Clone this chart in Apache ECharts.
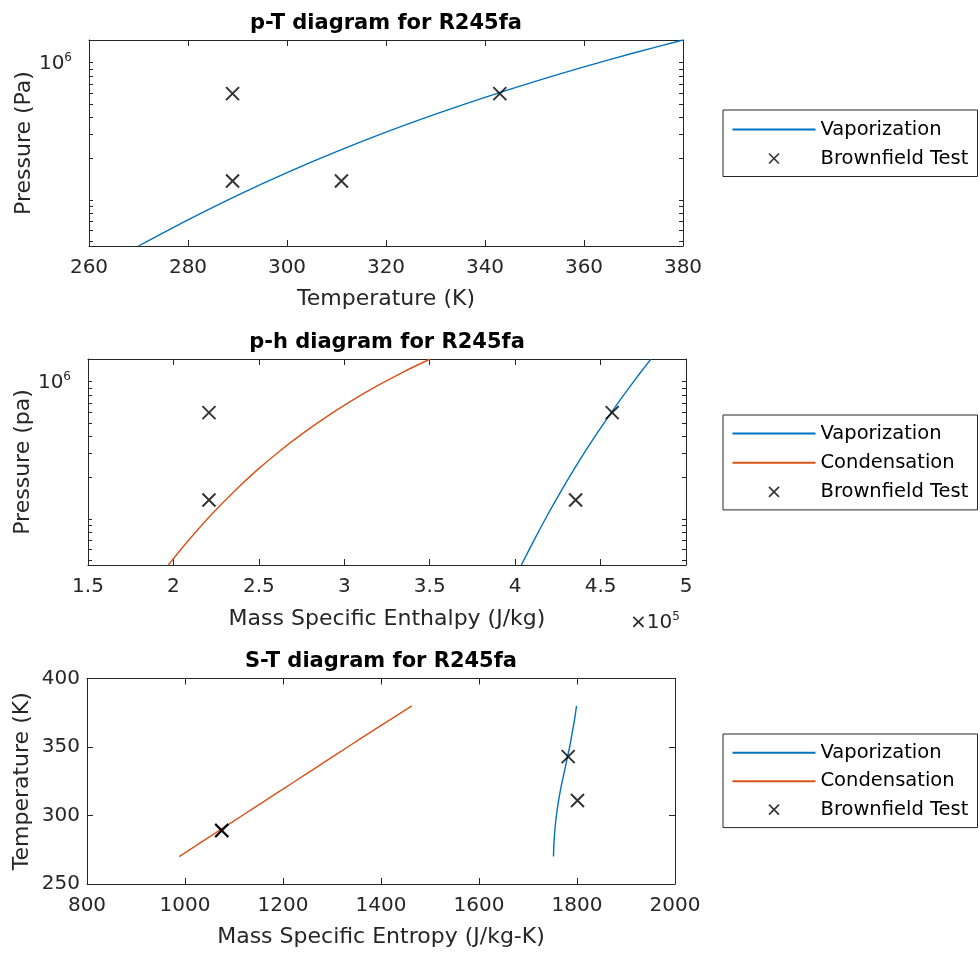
<!DOCTYPE html>
<html><head><meta charset="utf-8">
<script src="https://cdn.jsdelivr.net/npm/echarts@6/dist/echarts.min.js"></script>
<style>html,body{margin:0;padding:0;background:#fff}#c{width:980px;height:957px}</style>
</head><body><div id="c"></div>
<script>
// ---------- data ----------
const satT = [270, 280, 290, 300, 310, 320, 330, 340, 350, 360, 370, 380];            // K
const satP = [46300, 71800, 108300, 158300, 225000, 311700, 421600, 559000, 727600, 931000, 1175000, 1461000]; // Pa
const liqH = [197000, 209600, 222400, 235400, 248600, 262100, 275900, 290000, 304400, 319200, 334500, 350300]; // J/kg
const vapH = [403600, 411500, 419200, 426700, 434000, 441100, 448000, 454700, 461200, 467500, 473600, 479500]; // J/kg
const liqS = [988, 1031, 1074, 1117, 1160, 1203, 1246, 1289, 1332, 1375, 1419, 1463]; // J/kg-K
const vapS = [1752, 1753, 1755, 1758, 1762, 1767, 1773, 1779, 1785, 1790, 1795, 1799]; // J/kg-K

const testT = [289, 289, 311, 343];
const testP = [595000, 137500, 137500, 595000];
const testH = [220800, 220800, 435400, 456800];
const testS = [1075, 1075, 1801, 1782];

const pTickValues = [50000, 60000, 70000, 80000, 90000, 100000, 200000, 300000, 400000, 500000, 600000, 700000, 800000, 900000, 1000000];
const pLabelValues = [1000000];

const titles = ['p-T diagram for R245fa', 'p-h diagram for R245fa', 'S-T diagram for R245fa'];
const legendNames2 = ['Vaporization', 'Brownfield Test'];
const legendNames3 = ['Vaporization', 'Condensation', 'Brownfield Test'];

// ---------- style ----------
const FONT = 'DejaVu Sans';
const AX = '#262626';
const BLUE = '#0072BD';
const ORANGE = '#D95319';
const XSYM = 'path://M0,0L10,10M10,0L0,10';
const CLEAR = 'rgba(0,0,0,0)';

const grids = [
  { left: 89, top: 40, width: 594, height: 206 },
  { left: 88, top: 359, width: 598, height: 206 },
  { left: 87, top: 678.5, width: 588, height: 205.5 }
];

function plain(v) { return String(v); }

function xPair(g, min, max, interval, name, fmt, title, nameGap) {
  const common = {
    type: 'value', gridIndex: g, min: min, max: max, interval: interval,
    axisLine: { onZero: false, lineStyle: { color: AX, width: 1 } },
    axisTick: { inside: true, length: 6, lineStyle: { color: AX } },
    splitLine: { show: false }
  };
  return [
    Object.assign({}, common, {
      position: 'bottom', name: name, nameLocation: 'middle', nameGap: nameGap, nameMoveOverlap: false,
      nameTextStyle: { fontFamily: FONT, fontSize: 22, color: AX },
      axisLabel: { fontFamily: FONT, fontSize: 20, color: AX, margin: 12, formatter: fmt,
                   showMinLabel: true, showMaxLabel: true }
    }),
    Object.assign({}, common, {
      position: 'top', name: title, nameLocation: 'middle', nameGap: 6, nameMoveOverlap: false,
      nameTextStyle: { fontFamily: FONT, fontSize: 21, fontWeight: 'bold', color: '#000' },
      axisLabel: { show: false }
    })
  ];
}

const supRich = {
  m: { fontFamily: FONT, fontSize: 20, fontWeight: 'normal', color: AX, lineHeight: 22, verticalAlign: 'bottom', padding: [6, 0, 0, 0] },
  s: { fontFamily: FONT, fontSize: 12, fontWeight: 'normal', color: AX, lineHeight: 12, verticalAlign: 'top' }
};

function logPair(g, name) {
  const common = {
    type: 'log', gridIndex: g, min: satP[0], max: satP[satP.length - 1], logBase: 10,
    axisLine: { lineStyle: { color: AX, width: 1 } },
    axisTick: { inside: true, length: 4, customValues: pTickValues, lineStyle: { color: AX } },
    splitLine: { show: false }, minorTick: { show: false }
  };
  return [
    Object.assign({}, common, {
      position: 'left', name: name, nameLocation: 'middle', nameGap: 54, nameMoveOverlap: false,
      nameTextStyle: { fontFamily: FONT, fontSize: 22, color: AX },
      axisLabel: { customValues: pLabelValues, margin: 17, formatter: function () { return '{m|10}{s|6}'; }, rich: supRich }
    }),
    Object.assign({}, common, { position: 'right', axisLabel: { show: false } })
  ];
}

function linPair(g, min, max, interval, name) {
  const common = {
    type: 'value', gridIndex: g, min: min, max: max, interval: interval,
    axisLine: { lineStyle: { color: AX, width: 1 } },
    axisTick: { inside: true, length: 6, lineStyle: { color: AX } },
    splitLine: { show: false }
  };
  return [
    Object.assign({}, common, {
      position: 'left', name: name, nameLocation: 'middle', nameGap: 54, nameMoveOverlap: false,
      nameTextStyle: { fontFamily: FONT, fontSize: 22, color: AX },
      axisLabel: { fontFamily: FONT, fontSize: 20, color: AX, margin: 7, formatter: plain,
                   showMinLabel: true, showMaxLabel: true }
    }),
    Object.assign({}, common, { position: 'right', axisLabel: { show: false } })
  ];
}

const xAxes = [].concat(
  xPair(0, 260, 380, 20, 'Temperature (K)', plain, titles[0], 42),
  xPair(1, 150000, 500000, 50000, 'Mass Specific Enthalpy (J/kg)', function (v) { return String(v / 100000); }, titles[1], 43),
  xPair(2, 800, 2000, 200, 'Mass Specific Entropy (J/kg-K)', plain, titles[2], 42)
);
const yAxes = [].concat(
  logPair(0, 'Pressure (Pa)'),
  logPair(1, 'Pressure (pa)'),
  linPair(2, 250, 400, 50, 'Temperature (K)')
);

function pairs(a, b) { return a.map(function (v, i) { return [v, b[i]]; }); }

function lineSeries(name, color, xi, yi, data) {
  return { type: 'line', name: name, xAxisIndex: xi, yAxisIndex: yi, data: data,
           symbol: 'none', showSymbol: false, smooth: 0.3, z: 2,
           lineStyle: { color: color, width: 1.4 }, itemStyle: { color: CLEAR, borderWidth: 0 } };
}
function testSeries(xi, yi, data) {
  return { type: 'scatter', name: 'Brownfield Test', xAxisIndex: xi, yAxisIndex: yi, data: data,
           symbol: XSYM, symbolSize: 13, z: 5,
           itemStyle: { color: 'none', borderColor: '#000', borderWidth: 2 } };
}

const series = [
  lineSeries('Vaporization', BLUE, 0, 0, pairs(satT, satP)),
  testSeries(0, 0, pairs(testT, testP)),
  lineSeries('Vaporization', BLUE, 2, 2, pairs(vapH, satP)),
  lineSeries('Condensation', ORANGE, 2, 2, pairs(liqH, satP)),
  testSeries(2, 2, pairs(testH, testP)),
  lineSeries('Vaporization', BLUE, 4, 4, pairs(vapS, satT)),
  lineSeries('Condensation', ORANGE, 4, 4, pairs(liqS, satT)),
  testSeries(4, 4, pairs(testS, testT))
];

function legendData(names) {
  return names.map(function (n) {
    if (n === 'Brownfield Test') {
      return { name: n, icon: XSYM, itemStyle: { color: 'none', borderColor: '#000', borderWidth: 1.6 } };
    }
    return { name: n, itemStyle: { color: CLEAR, borderWidth: 0 } };
  });
}
function legend(names, top, gap, padTop, padBottom) {
  return {
    data: legendData(names), orient: 'vertical', left: 723, top: top,
    itemWidth: 83, itemHeight: 10, itemGap: gap, selectedMode: false,
    padding: [padTop, 2, padBottom, 8.5],
    borderColor: AX, borderWidth: 1, backgroundColor: '#fff',
    textStyle: { fontFamily: FONT, fontSize: 19.5, color: '#000', lineHeight: 20, width: 155 }
  };
}

const option = {
  animation: false,
  backgroundColor: '#fff',
  textStyle: { fontFamily: FONT },
  grid: grids.map(function (g) { return Object.assign({ outerBoundsMode: 'none', containLabel: false }, g); }),
  xAxis: xAxes,
  yAxis: yAxes,
  title: [{
    text: '{m|×10}{s|5}', left: 630, top: 611, padding: 0,
    textStyle: { fontWeight: 'normal', rich: supRich }
  }],
  legend: [
    legend(legendNames2, 110, 9, 9.5, 8),
    legend(legendNames3, 415, 9.2, 8.5, 8),
    legend(legendNames3, 734, 8.4, 8.8, 8)
  ],
  series: series
};

const chart = echarts.init(document.getElementById('c'), null, { renderer: 'canvas' });
chart.setOption(option);
</script>
</body></html>
